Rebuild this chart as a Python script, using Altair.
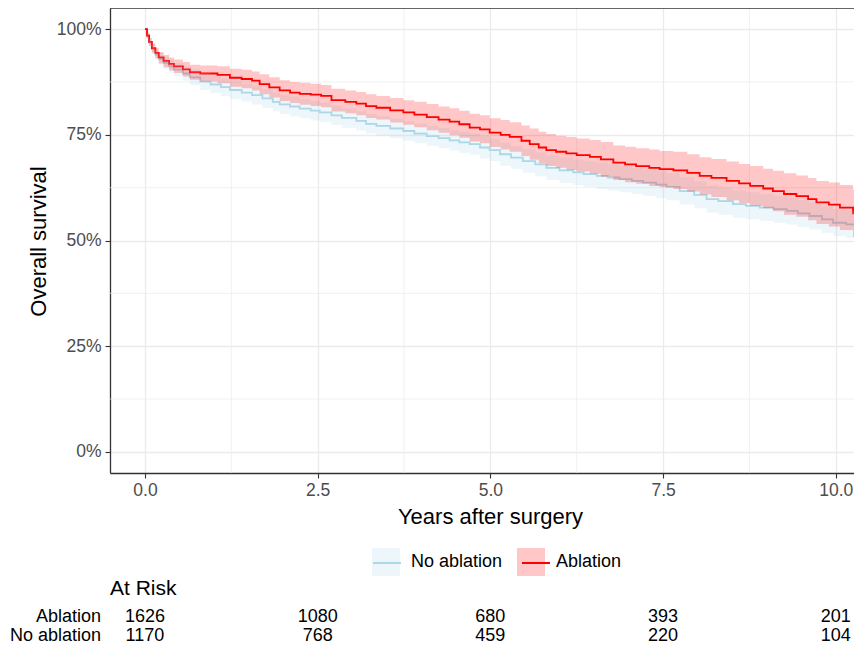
import altair as alt
import pandas as pd

# ---------------- data ----------------
groups = ["No ablation", "Ablation"]
line_colors = ["#ADD8E6", "#FF0000"]

abl_t = [0.00, 0.03, 0.06, 0.10, 0.15, 0.20, 0.27, 0.35, 0.42, 0.55, 0.65, 0.80, 1.05, 1.23, 1.40, 1.55, 1.66,
         1.80, 1.95, 2.10, 2.24, 2.40, 2.55, 2.70, 2.90, 3.06, 3.20, 3.35, 3.55, 3.74, 3.90, 4.08, 4.25, 4.41,
         4.55, 4.70, 4.85, 4.99, 5.15, 5.28, 5.45, 5.57, 5.70, 5.81, 5.95, 6.10, 6.25, 6.44, 6.60, 6.78, 6.95,
         7.11, 7.30, 7.45, 7.65, 7.85, 8.03, 8.20, 8.42, 8.60, 8.76, 8.95, 9.09, 9.25, 9.43, 9.60, 9.72, 9.90,
         10.06, 10.25, 10.40]
abl_s = [100, 98.5, 97, 95.5, 94.4, 93.3, 92.5, 91.8, 91.2, 90.5, 89.8, 89.5, 89.2, 88.5, 88.2, 87.8, 87.0,
         86.2, 85.5, 85.0, 84.7, 84.5, 84.2, 83.2, 82.8, 82.4, 81.8, 81.4, 80.8, 80.3, 79.8, 79.2, 78.6, 78.1,
         77.5, 76.7, 76.3, 75.5, 75.0, 74.5, 73.6, 72.8, 72.0, 71.4, 71.0, 70.6, 70.2, 69.8, 69.2, 68.4, 68.0,
         67.6, 67.2, 66.9, 66.6, 66.0, 65.3, 64.8, 64.1, 63.5, 62.9, 62.3, 61.7, 61.0, 60.5, 59.8, 59.0, 58.5,
         57.8, 56.4, 56.4]
abl_hi = [100, 99.2, 97.9, 96.6, 95.6, 94.6, 93.9, 93.3, 92.8, 92.2, 91.6, 91.4, 91.2, 90.6, 90.4, 90.0, 89.3,
          88.6, 87.9, 87.5, 87.3, 87.1, 86.8, 85.9, 85.5, 85.1, 84.6, 84.2, 83.7, 83.2, 82.8, 82.3, 81.7, 81.3,
          80.7, 80.0, 79.6, 78.9, 78.5, 78.0, 77.2, 76.5, 75.7, 75.2, 74.8, 74.5, 74.1, 73.8, 73.3, 72.5, 72.2,
          71.8, 71.5, 71.2, 71.0, 70.4, 69.7, 69.3, 68.7, 68.1, 67.6, 67.0, 66.5, 65.9, 65.4, 64.8, 64.1, 63.7,
          63.1, 62.0, 62.0]
abl_lo = [100, 97.8, 96.0, 94.4, 93.1, 91.9, 91.0, 90.2, 89.6, 88.8, 88.0, 87.6, 87.2, 86.4, 86.0, 85.5, 84.6,
          83.8, 83.0, 82.5, 82.1, 81.8, 81.5, 80.5, 80.1, 79.6, 79.0, 78.6, 77.9, 77.4, 76.8, 76.1, 75.5, 74.9,
          74.3, 73.4, 73.0, 72.1, 71.5, 71.0, 70.0, 69.1, 68.3, 67.6, 67.2, 66.7, 66.3, 65.8, 65.1, 64.3, 63.8,
          63.4, 62.9, 62.6, 62.2, 61.6, 60.9, 60.3, 59.5, 58.9, 58.2, 57.6, 56.9, 56.1, 55.6, 54.8, 53.9, 53.3,
          52.5, 50.8, 50.8]

noab_t = [0.00, 0.03, 0.06, 0.10, 0.15, 0.20, 0.27, 0.35, 0.42, 0.55, 0.65, 0.80, 0.95, 1.10, 1.23, 1.40, 1.55,
          1.70, 1.85, 1.95, 2.10, 2.24, 2.40, 2.53, 2.70, 2.85, 3.06, 3.20, 3.35, 3.55, 3.74, 3.90, 4.08, 4.25,
          4.41, 4.55, 4.70, 4.85, 4.99, 5.14, 5.30, 5.47, 5.65, 5.81, 6.00, 6.20, 6.35, 6.54, 6.70, 6.87, 7.05,
          7.21, 7.40, 7.55, 7.74, 7.95, 8.13, 8.30, 8.51, 8.70, 8.90, 9.10, 9.29, 9.45, 9.62, 9.80, 9.96, 10.15,
          10.30, 10.40]
noab_s = [100, 98.3, 96.8, 95.2, 94.0, 93.0, 92.0, 91.2, 90.4, 89.5, 88.6, 87.6, 86.9, 86.3, 85.6, 85.0, 84.4,
          83.6, 82.8, 82.2, 81.7, 81.2, 80.7, 80.3, 79.6, 79.0, 78.3, 77.6, 77.1, 76.5, 75.9, 75.3, 74.7, 74.2,
          73.7, 73.2, 72.8, 72.0, 71.4, 70.4, 69.6, 68.8, 68.0, 67.2, 66.6, 66.1, 65.7, 65.3, 64.9, 64.5, 64.1,
          63.7, 63.2, 62.7, 61.7, 60.8, 59.8, 59.3, 58.6, 58.2, 57.8, 57.4, 57.0, 56.4, 55.8, 55.0, 54.2, 53.8,
          53.5, 53.5]
noab_hi = [100, 99.0, 97.7, 96.3, 95.2, 94.3, 93.4, 92.7, 92.0, 91.2, 90.4, 89.6, 88.9, 88.4, 87.7, 87.1, 86.6,
           85.8, 85.0, 84.5, 84.0, 83.5, 83.0, 82.6, 81.9, 81.3, 80.6, 79.9, 79.4, 78.8, 78.2, 77.6, 77.0, 76.6,
           76.1, 75.7, 75.3, 74.6, 74.0, 73.1, 72.3, 71.6, 70.8, 70.1, 69.6, 69.1, 68.7, 68.4, 68.0, 67.6, 67.2,
           66.8, 66.4, 65.9, 64.9, 64.0, 63.0, 62.5, 61.8, 61.4, 61.0, 60.6, 60.2, 59.6, 59.0, 58.2, 57.4, 57.0,
           56.7, 56.7]
noab_lo = [100, 97.6, 95.9, 94.1, 92.8, 91.7, 90.6, 89.7, 88.8, 87.8, 86.8, 85.6, 84.9, 84.2, 83.5, 82.9, 82.2,
           81.4, 80.6, 79.9, 79.4, 78.9, 78.4, 78.0, 77.3, 76.7, 76.0, 75.3, 74.8, 74.2, 73.6, 73.0, 72.4, 71.8,
           71.3, 70.7, 70.3, 69.4, 68.8, 67.7, 66.9, 66.0, 65.2, 64.3, 63.6, 63.1, 62.7, 62.2, 61.8, 61.4, 61.0,
           60.6, 60.0, 59.5, 58.5, 57.6, 56.6, 56.1, 55.4, 55.0, 54.6, 54.2, 53.8, 53.2, 52.6, 51.8, 51.0, 50.6,
           50.3, 50.3]

x_ticks = [0, 2.5, 5, 7.5, 10]
y_ticks = [0, 25, 50, 75, 100]
x_minor = [1.25, 3.75, 6.25, 8.75]
y_minor = [12.5, 37.5, 62.5, 87.5]

risk_rows = ["Ablation", "No ablation"]
risk_times = [0, 2.5, 5, 7.5, 10]
risk_abl = [1626, 1080, 680, 393, 201]
risk_noab = [1170, 768, 459, 220, 104]

# ---------------- tables ----------------
km = pd.concat([
    pd.DataFrame({"t": noab_t, "s": noab_s, "lo": noab_lo, "hi": noab_hi, "group": "No ablation"}),
    pd.DataFrame({"t": abl_t, "s": abl_s, "lo": abl_lo, "hi": abl_hi, "group": "Ablation"}),
], ignore_index=True)
risk_df = pd.DataFrame({
    "t": risk_times + risk_times,
    "n": risk_abl + risk_noab,
    "group": ["Ablation"] * len(risk_times) + ["No ablation"] * len(risk_times),
})

FONT = "Liberation Sans"
LEG_FS = 18

xscale = alt.Scale(domain=[-0.506, 10.264], nice=False, zero=False)
yscale = alt.Scale(domain=[-5, 105], nice=False, zero=False)
x_axis = alt.Axis(values=x_ticks, format=".1f", title="Years after surgery", labelFlush=False,
                  titleX=380, titleY=43, titleBaseline="middle", titleAlign="center")
y_axis = alt.Axis(values=y_ticks, labelExpr="datum.value + '%'", title="Overall survival",
                  titleX=-72, titleY=233, titleAngle=270, titleBaseline="middle", titleAlign="center")


def X(field):
    return alt.X(field, scale=xscale, axis=x_axis)


def Y(field):
    return alt.Y(field, scale=yscale, axis=y_axis)


legend_common = dict(title=None, orient="none", legendX=262, legendY=540, direction="horizontal",
                     symbolSize=784, labelFontSize=LEG_FS, labelFont=FONT, labelColor="black",
                     labelOffset=11, padding=0)

minor_x = alt.Chart(pd.DataFrame({"v": x_minor})).mark_rule(color="#EBEBEB", strokeWidth=0.7).encode(x=X("v:Q"))
minor_y = alt.Chart(pd.DataFrame({"v": y_minor})).mark_rule(color="#EBEBEB", strokeWidth=0.7).encode(y=Y("v:Q"))
top_rule = alt.Chart(pd.DataFrame({"v": [105]})).mark_rule(color="#333333", strokeWidth=1.3).encode(y=Y("v:Q"))

# line keys drawn over the band keys; their (empty) labels are replaced by extra column padding
lines = alt.Chart(km).mark_line(interpolate="step-after", strokeWidth=1.8, clip=True).encode(
    x=X("t:Q"), y=Y("s:Q"),
    stroke=alt.Stroke("group:N", scale=alt.Scale(domain=groups, range=line_colors),
                      legend=alt.Legend(symbolType="stroke", symbolStrokeWidth=2, labelExpr="''",
                                        columnPadding=105, **legend_common)),
)
bands = alt.Chart(km).mark_area(interpolate="step-after", opacity=0.22, clip=True).encode(
    x=X("t:Q"), y=Y("lo:Q"), y2="hi:Q",
    fill=alt.Fill("group:N", scale=alt.Scale(domain=groups, range=line_colors),
                  legend=alt.Legend(symbolType="square", symbolStrokeWidth=0, symbolOpacity=0.22,
                                    columnPadding=14, **legend_common)),
)

main = alt.layer(minor_x, minor_y, top_rule, lines, bands).resolve_legend(fill="independent", stroke="independent")

ry = alt.Scale(type="point", domain=risk_rows, range=[609, 628], padding=0)
risk_nums = alt.Chart(risk_df).mark_text(font=FONT, fontSize=18, color="black", baseline="middle").encode(
    x=X("t:Q"), y=alt.Y("group:N", scale=ry, axis=None), text=alt.Text("n:Q", format="d"))
risk_labels = alt.Chart(pd.DataFrame({"group": risk_rows})).mark_text(
    font=FONT, fontSize=18, color="black", align="right", baseline="middle").encode(
    x=alt.value(-9), y=alt.Y("group:N", scale=ry, axis=None), text="group:N")
risk_title = alt.Chart(pd.DataFrame({"label": ["At Risk"]})).mark_text(
    font=FONT, fontSize=21, color="black", align="left", baseline="middle").encode(
    x=alt.value(0), y=alt.value(581), text="label:N")
risk = alt.layer(risk_nums, risk_labels, risk_title)

chart = alt.layer(main, risk).resolve_scale(y="independent").properties(
    width=744, height=465,
    autosize=alt.AutoSizeParams(type="none"),
    padding={"left": 102, "top": 0, "right": 0, "bottom": 173},
    background="white",
).configure_view(stroke=None).configure_axis(
    labelFont=FONT, labelFontSize=17.5, labelColor="#4D4D4D",
    tickColor="#333333", tickSize=5, tickWidth=1.1,
    domainColor="#333333", domainWidth=1.3,
    gridColor="#EBEBEB", gridWidth=1.3,
    titleFont=FONT, titleFontSize=22, titleFontWeight="normal", titleColor="black",
).configure_axisX(labelPadding=3).configure_axisY(labelPadding=4)

chart.save("out.html", embed_options={"renderer": "svg", "actions": False})
